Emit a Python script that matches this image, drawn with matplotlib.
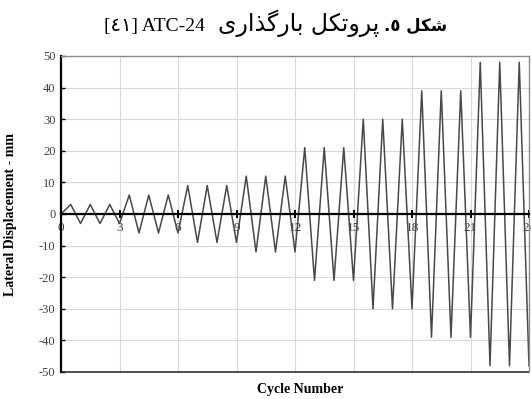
import unicodedata
import numpy as np
import matplotlib
matplotlib.use('Agg')
import matplotlib.pyplot as plt

plt.rcParams['axes.unicode_minus'] = False

# loading protocol: displacement at every half cycle (mm)
cycles = np.arange(0, 24.5, 0.5)
displacement = [0,
                3, -3, 3, -3, 3, -3,
                6, -6, 6, -6, 6, -6,
                9, -9, 9, -9, 9, -9,
                12, -12, 12, -12, 12, -12,
                21, -21, 21, -21, 21, -21,
                30, -30, 30, -30, 30, -30,
                39, -39, 39, -39, 39, -39,
                48, -48, 48, -48, 48, -48]

x_ticks = [0, 3, 6, 9, 12, 15, 18, 21, 24]
y_ticks = [-50, -40, -30, -20, -10, 0, 10, 20, 30, 40, 50]

title_bold = 'شکل ٥.'
title_fa = 'پروتکل بارگذاری'
title_en = 'ATC-24 [٤١]'
x_label = 'Cycle Number'
y_label = 'Lateral Displacement - mm'

SERIF = ['Liberation Serif', 'DejaVu Sans']
NO_JOIN_AFTER = set('اآدذرزژو')


def shape(word):
    # matplotlib does no arabic shaping, so pick contextual forms by hand
    out = []
    n = len(word)
    for i, ch in enumerate(word):
        before = i > 0 and word[i - 1] not in NO_JOIN_AFTER
        after = i < n - 1 and ch not in NO_JOIN_AFTER
        if before and after:
            form = 'MEDIAL'
        elif before:
            form = 'FINAL'
        elif after:
            form = 'INITIAL'
        else:
            form = 'ISOLATED'
        try:
            out.append(unicodedata.lookup(unicodedata.name(ch) + ' ' + form + ' FORM'))
        except KeyError:
            out.append(ch)
    return ''.join(reversed(out))


def visual(text):
    words = []
    for w in text.split(' '):
        if any('\u0620' <= c <= '\u06ff' and not c.isdigit() for c in w):
            w = shape(w)
        elif w.endswith('.'):
            w = '.' + w[:-1]
        words.append(w)
    return ' '.join(reversed(words))


fig = plt.figure(figsize=(5.31, 3.99), dpi=100)
ax = fig.add_axes([61 / 531, 1 - 372 / 399, (529 - 61) / 531, (372 - 56) / 399])

ax.plot(cycles, displacement, color='#484848', lw=1.1, zorder=2)

ax.set_xlim(0, 24)
ax.set_ylim(-50, 50)
ax.set_xticks(x_ticks)
ax.set_yticks(y_ticks)
ax.grid(True, color='#d9d9d9', lw=0.8, zorder=0)
ax.set_axisbelow(True)

ax.spines['bottom'].set_position(('data', 0))
ax.spines['bottom'].set_linewidth(1.6)
ax.spines['bottom'].set_zorder(3)
ax.spines['left'].set_linewidth(1.6)
for s in ['top', 'right']:
    ax.spines[s].set_color('#8c8c8c')
    ax.spines[s].set_linewidth(1.0)
ax.axhline(-50, color='#303030', lw=1.2, clip_on=False)

ax.tick_params(axis='x', direction='inout', length=6, width=1.4, pad=2.5,
               labelsize=9.5, labelcolor='#404040')
ax.tick_params(axis='y', direction='in', length=3, width=1.0, pad=4,
               labelsize=9, labelcolor='#404040')
for lab in ax.get_xticklabels() + ax.get_yticklabels():
    lab.set_family(SERIF)

ax.set_ylabel(y_label, family=SERIF, fontsize=10, fontweight='bold')
ax.yaxis.set_label_coords(-0.094, 0.5)
fig.text(300 / 531, 1 - 390 / 399, x_label, family=SERIF, fontsize=10,
         fontweight='bold', ha='center', va='center')

# title pieces laid out right to left by hand
base = 1 - 31 / 399
fig.text(104 / 531, base, visual(title_en), family=SERIF, fontsize=14,
         ha='left', va='baseline')
fig.text(379 / 531, base, visual(title_fa), family='DejaVu Sans', fontsize=17,
         ha='right', va='baseline')
fig.text(384 / 531, base, visual(title_bold), family='DejaVu Sans', fontsize=12,
         fontweight='bold', ha='left', va='baseline')

fig.savefig('out.png', dpi=100)
